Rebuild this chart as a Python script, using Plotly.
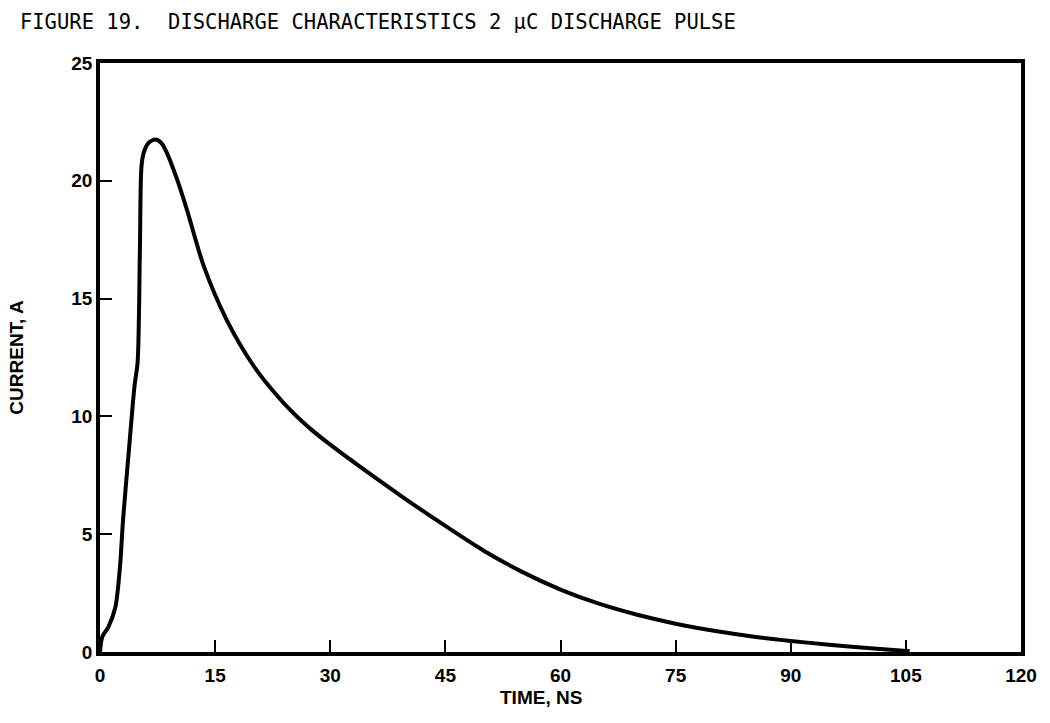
import plotly.graph_objects as go

time_ns = [0, 0.3, 1.1, 2.0, 2.6, 3.0, 3.8, 4.5, 4.9, 5.2, 5.4, 5.7, 6.3, 7.2, 8.0, 8.7,
           10.0, 11.3, 13.5, 16.5, 20.0, 22.5, 25.0, 27.5, 30.0, 35.0, 40.0, 45.0, 50.0,
           55.0, 60.0, 65.0, 70.0, 75.0, 80.0, 85.0, 90.0, 95.0, 100.0, 105.5]
current_a = [0, 0.65, 1.07, 1.9, 3.6, 5.6, 8.7, 11.3, 12.3, 17.1, 20.6, 21.2, 21.6, 21.75,
             21.6, 21.2, 20.1, 18.8, 16.4, 14.1, 12.15, 11.1, 10.2, 9.45, 8.8, 7.6, 6.45,
             5.35, 4.3, 3.4, 2.65, 2.05, 1.58, 1.2, 0.9, 0.66, 0.47, 0.31, 0.17, 0.03]

x_ticks = [0, 15, 30, 45, 60, 75, 90, 105, 120]
y_ticks = [0, 5, 10, 15, 20, 25]

title_text = "FIGURE 19.\u00a0\u00a0DISCHARGE CHARACTERISTICS 2 \u03bcC DISCHARGE PULSE"

fig = go.Figure()
fig.add_trace(go.Scatter(
    x=time_ns, y=current_a, mode="lines",
    line=dict(color="black", width=4, shape="spline", smoothing=0.8),
    showlegend=False, hoverinfo="skip",
))

tickfont = dict(family="Liberation Sans, Arial, sans-serif", size=19, color="black", weight="bold")

fig.update_layout(
    width=1050, height=723,
    margin=dict(l=100, r=29, t=63, b=71),
    paper_bgcolor="white", plot_bgcolor="white",
    title=dict(text=title_text, x=0.019, xanchor="left", xref="container",
               y=1 - 22 / 723, yanchor="middle", yref="container",
               font=dict(family="DejaVu Sans Mono, monospace", size=20.5, color="black")),
    xaxis=dict(range=[0, 120], tickvals=x_ticks, ticktext=[str(v) for v in x_ticks],
               ticks="inside", ticklen=12, tickwidth=2, tickcolor="black",
               showline=True, linecolor="black", linewidth=3.5, mirror=True,
               showgrid=False, zeroline=False, tickfont=tickfont,
               ticklabelstandoff=3),
    yaxis=dict(range=[0, 25], tickvals=y_ticks, ticktext=[str(v) for v in y_ticks],
               ticks="inside", ticklen=12, tickwidth=2, tickcolor="black",
               showline=True, linecolor="black", linewidth=3.5, mirror=True,
               showgrid=False, zeroline=False, tickfont=tickfont,
               title=dict(text="CURRENT, A", standoff=44,
                          font=dict(family="Liberation Sans, Arial, sans-serif", size=19,
                                    color="black", weight="bold"))),
    annotations=[dict(text="TIME, NS", xref="paper", yref="paper",
                      x=(541 - 100) / 921, y=-(697 - 652) / 589,
                      xanchor="center", yanchor="middle", showarrow=False,
                      font=dict(family="Liberation Sans, Arial, sans-serif", size=19,
                                color="black", weight="bold"))],
)

fig.write_html("out.html")
